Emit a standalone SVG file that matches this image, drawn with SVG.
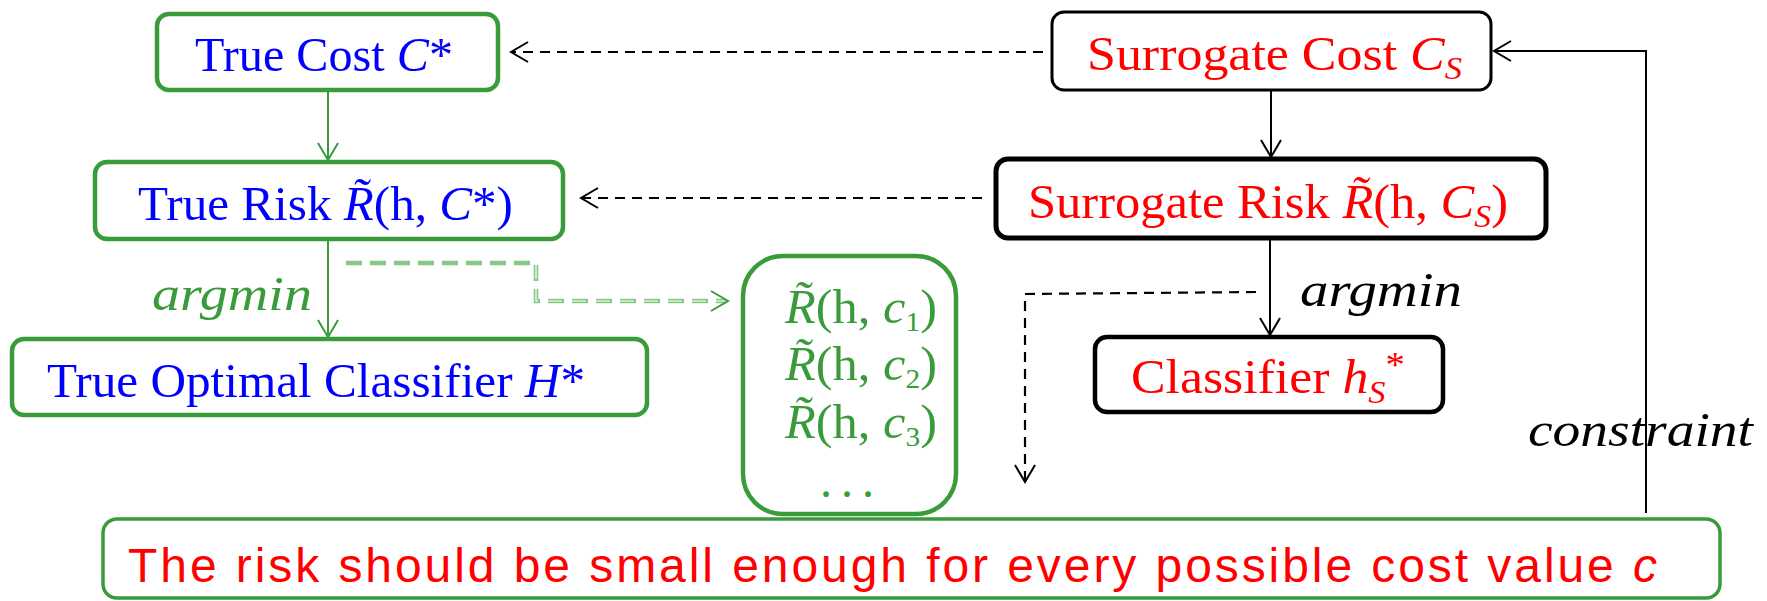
<svg xmlns="http://www.w3.org/2000/svg" width="1767" height="601" viewBox="0 0 1767 601">
<style>
.bg{fill:#ffffff}
.gbox{fill:#ffffff;stroke:#3a9b3a;stroke-width:4.5}
.kbox{fill:#ffffff;stroke:#000000}
.lbl{font-family:"Liberation Serif",serif;font-size:48px}
.it{font-style:italic}
.blue{fill:#0000ff}
.red{fill:#ff0000}
.green{fill:#3a9b3a}
.black{fill:#000000}
.gline{fill:none;stroke:#3a9b3a;stroke-width:2}
.kline{fill:none;stroke:#000000;stroke-width:2}
.kdash{fill:none;stroke:#000000;stroke-width:2.2;stroke-dasharray:10 7}
.lgdash{fill:none;stroke:#86c886;stroke-width:4.5;stroke-dasharray:16 8}
.lgdash2{fill:none;stroke:#ffffff;stroke-width:1.2;stroke-dasharray:16 8}
.sans{font-family:"Liberation Sans",Arial,sans-serif;font-size:48px}
</style>
<defs>
<marker id="ak" viewBox="-19 -12 21 24" refX="0" refY="0" markerWidth="21" markerHeight="24" markerUnits="userSpaceOnUse" orient="auto">
<path d="M-17,-10 L0,0 L-17,10" fill="none" stroke="#000000" stroke-width="2" stroke-dasharray="none"/>
</marker>
<marker id="ag" viewBox="-19 -12 21 24" refX="0" refY="0" markerWidth="21" markerHeight="24" markerUnits="userSpaceOnUse" orient="auto">
<path d="M-17,-10 L0,0 L-17,10" fill="none" stroke="#3a9b3a" stroke-width="2" stroke-dasharray="none"/>
</marker>
</defs>
<rect class="bg" x="0" y="0" width="1767" height="601"/>

<g id="connectors">
<path class="gline" d="M328,90 L328,160" marker-end="url(#ag)"/>
<path class="gline" d="M328,239 L328,337" marker-end="url(#ag)"/>
<path class="lgdash" d="M346,263 L536,263 L536,301 L726,301"/>
<path class="lgdash2" d="M536,263 L536,301 L726,301"/>
<path d="M710,301 L728,301" fill="none" stroke="none" marker-end="url(#ag)"/>
<path class="kdash" d="M1043,52 L511,52" marker-end="url(#ak)"/>
<path class="kdash" d="M982,198 L581,198" marker-end="url(#ak)"/>
<path class="kline" d="M1271,90 L1271,157" marker-end="url(#ak)"/>
<path class="kline" d="M1270,238 L1270,335" marker-end="url(#ak)"/>
<path class="kdash" d="M1256,292 L1025,294 L1025,482" marker-end="url(#ak)"/>
<path class="kline" d="M1646,513 L1646,51 L1494,51" marker-end="url(#ak)"/>
<text class="lbl it green" x="152" y="310" textLength="160" lengthAdjust="spacingAndGlyphs">argmin</text>
<text class="lbl it black" x="1300" y="306" textLength="162" lengthAdjust="spacingAndGlyphs">argmin</text>
<text class="lbl it black" x="1528" y="446" textLength="225" lengthAdjust="spacingAndGlyphs">constraint</text>
</g>

<g id="true-cost">
<rect class="gbox" x="157" y="14" width="341" height="76" rx="12"/>
<text class="lbl blue" x="195" y="71" textLength="258" lengthAdjust="spacingAndGlyphs">True Cost <tspan class="it">C</tspan>*</text>
</g>

<g id="true-risk">
<rect class="gbox" x="95" y="162" width="468" height="77" rx="12"/>
<text class="lbl blue" x="138" y="220" textLength="375" lengthAdjust="spacingAndGlyphs">True Risk <tspan class="it">R&#x303;</tspan>(h, <tspan class="it">C</tspan>*)</text>
</g>

<g id="true-optimal">
<rect class="gbox" x="12" y="339" width="635" height="76" rx="12"/>
<text class="lbl blue" x="47" y="397" textLength="538" lengthAdjust="spacingAndGlyphs">True Optimal Classifier <tspan class="it">H</tspan>*</text>
</g>

<g id="risk-list">
<rect class="gbox" x="743" y="256" width="213" height="258" rx="40"/>
<text class="lbl green" font-size="40" x="785" y="323" textLength="152" lengthAdjust="spacingAndGlyphs"><tspan class="it">R&#x303;</tspan>(h, <tspan class="it">c</tspan><tspan font-size="28" dy="8">1</tspan><tspan dy="-8">)</tspan></text>
<text class="lbl green" font-size="40" x="785" y="380" textLength="152" lengthAdjust="spacingAndGlyphs"><tspan class="it">R&#x303;</tspan>(h, <tspan class="it">c</tspan><tspan font-size="28" dy="8">2</tspan><tspan dy="-8">)</tspan></text>
<text class="lbl green" font-size="40" x="785" y="438" textLength="152" lengthAdjust="spacingAndGlyphs"><tspan class="it">R&#x303;</tspan>(h, <tspan class="it">c</tspan><tspan font-size="28" dy="8">3</tspan><tspan dy="-8">)</tspan></text>
<text class="lbl green" font-size="40" x="820" y="497" textLength="54" lengthAdjust="spacing">. . .</text>
</g>

<g id="surrogate-cost">
<rect class="kbox" stroke-width="3" x="1052" y="12" width="439" height="78" rx="12"/>
<text class="lbl red" x="1087" y="70" textLength="375" lengthAdjust="spacingAndGlyphs">Surrogate Cost <tspan class="it">C</tspan><tspan class="it" font-size="32" dy="9">S</tspan></text>
</g>

<g id="surrogate-risk">
<rect class="kbox" stroke-width="5" x="996" y="159" width="550" height="79" rx="12"/>
<text class="lbl red" x="1028" y="218" textLength="480" lengthAdjust="spacingAndGlyphs">Surrogate Risk <tspan class="it">R&#x303;</tspan>(h, <tspan class="it">C</tspan><tspan class="it" font-size="32" dy="9">S</tspan><tspan dy="-9">)</tspan></text>
</g>

<g id="classifier">
<rect class="kbox" stroke-width="4.5" x="1095" y="337" width="348" height="75" rx="12"/>
<text class="lbl red" x="1131" y="393" textLength="274" lengthAdjust="spacingAndGlyphs">Classifier <tspan class="it">h</tspan><tspan class="it" font-size="32" dy="10">S</tspan><tspan font-size="36" dy="-26">*</tspan></text>
</g>

<g id="constraint-box">
<rect fill="#ffffff" stroke="#3a9b3a" stroke-width="3.5" x="103" y="519" width="1617" height="79" rx="14"/>
<text class="sans red" x="128" y="582" textLength="1529" lengthAdjust="spacing">The risk should be small enough for every possible cost value <tspan class="it">c</tspan></text>
</g>
</svg>
